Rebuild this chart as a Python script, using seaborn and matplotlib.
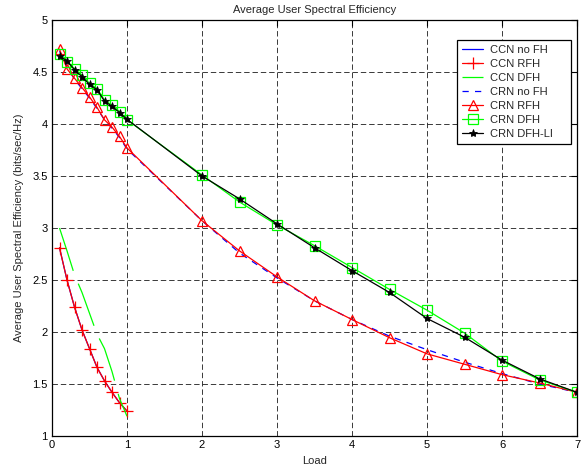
import matplotlib
matplotlib.use("Agg")
import matplotlib.pyplot as plt
from matplotlib.ticker import FormatStrFormatter, MultipleLocator
import seaborn as sns
import numpy as np

# ---------------- data ----------------
load_ccn = [0.1, 0.2, 0.3, 0.4, 0.5, 0.6, 0.7, 0.8, 0.9, 1.0]
load_crn = [0.1, 0.2, 0.3, 0.4, 0.5, 0.6, 0.7, 0.8, 0.9, 1.0,
            2.0, 2.5, 3.0, 3.5, 4.0, 4.5, 5.0, 5.5, 6.0, 6.5, 7.0]

ccn_no_fh = [2.81, 2.50, 2.24, 2.02, 1.84, 1.66, 1.53, 1.42, 1.32, 1.24]
ccn_rfh   = [2.81, 2.50, 2.24, 2.02, 1.84, 1.66, 1.53, 1.42, 1.32, 1.24]
ccn_dfh   = [3.00, 2.78, 2.55, 2.38, 2.18, 1.98, 1.84, 1.62, 1.36, 1.19]

crn_no_fh  = [4.70, 4.55, 4.43, 4.34, 4.25, 4.15, 4.04, 3.96, 3.87, 3.76,
              3.07, 2.76, 2.52, 2.30, 2.12, 1.96, 1.83, 1.71, 1.60, 1.50, 1.42]
crn_rfh    = [4.72, 4.53, 4.44, 4.35, 4.26, 4.16, 4.04, 3.97, 3.88, 3.77,
              3.07, 2.78, 2.53, 2.30, 2.12, 1.945, 1.79, 1.69, 1.59, 1.51, 1.42]
crn_dfh    = [4.67, 4.60, 4.53, 4.47, 4.39, 4.34, 4.23, 4.18, 4.12, 4.04,
              3.51, 3.25, 3.03, 2.83, 2.62, 2.41, 2.21, 1.99, 1.72, 1.54, 1.42]
crn_dfh_li = [4.65, 4.61, 4.52, 4.455, 4.38, 4.33, 4.22, 4.17, 4.11, 4.045,
              3.50, 3.28, 3.04, 2.81, 2.59, 2.38, 2.13, 1.95, 1.73, 1.55, 1.42]

title = "Average User Spectral Efficiency"
xlabel = "Load"
ylabel = "Average User Spectral Efficiency (bits/sec/Hz)"

# ---------------- style ----------------
sns.set_style("white")
plt.rcParams["font.family"] = ["Liberation Sans", "DejaVu Sans"]
plt.rcParams["font.size"] = 8

fig = plt.figure(figsize=(5.88, 4.73), dpi=100)
ax = fig.add_axes([52/588, 1-436/473, (577-52)/588, (436-20)/473])

lw = 0.9
series = [
    (load_ccn, ccn_no_fh, "CCN no FH", dict(color=(0, 0, 1), linestyle="-")),
    (load_ccn, ccn_rfh, "CCN RFH", dict(color=(1, 0, 0), linestyle="-", marker="+",
                                         markersize=8, markeredgecolor=(1, 0, 0), markeredgewidth=0.9)),
    (load_ccn, ccn_dfh, "CCN DFH", dict(color=(0, 1, 0), linestyle=(0, (36, 11)))),
    (load_crn, crn_no_fh, "CRN no FH", dict(color=(0, 0, 1), linestyle=(0, (5, 5)))),
    (load_crn, crn_rfh, "CRN RFH", dict(color=(1, 0, 0), linestyle="-", marker="^",
                                         markersize=7, markerfacecolor="none",
                                         markeredgecolor=(1, 0, 0), markeredgewidth=0.9)),
    (load_crn, crn_dfh, "CRN DFH", dict(color=(0, 1, 0), linestyle="-", marker="s",
                                         markersize=6.5, markerfacecolor="none",
                                         markeredgecolor=(0, 1, 0), markeredgewidth=0.9)),
    (load_crn, crn_dfh_li, "CRN DFH-LI", dict(color="black", linestyle="-", marker="*",
                                               markersize=6, markerfacecolor="black",
                                               markeredgecolor="black", markeredgewidth=0.6)),
]

for xs, ys, lab, kw in series:
    sns.lineplot(x=xs, y=ys, ax=ax, label=lab, linewidth=lw, sort=False,
                 estimator=None, **kw)

ax.set_xlim(0, 7)
ax.set_ylim(1, 5)
ax.xaxis.set_major_locator(MultipleLocator(1))
ax.yaxis.set_major_locator(MultipleLocator(0.5))
ax.yaxis.set_major_formatter(FormatStrFormatter("%g"))
ax.xaxis.set_major_formatter(FormatStrFormatter("%g"))

ax.grid(True, color="0.1", linestyle=(0, (6.5, 3.5)), linewidth=0.6)
ax.tick_params(direction="in", length=4, width=0.8, top=True, right=True,
               labelsize=8, colors="black", pad=3)
for sp in ax.spines.values():
    sp.set_color("black")
    sp.set_linewidth(0.9)

ax.set_title(title, fontsize=8, pad=5)
ax.set_xlabel(xlabel, fontsize=8, labelpad=4)
ax.set_ylabel(ylabel, fontsize=8, labelpad=6)

leg_left = (457 - 52) / 525
leg_right = (571 - 52) / 525
leg_top = (436 - 40) / 416
leg = ax.legend(loc="upper left",
                bbox_to_anchor=(leg_left, leg_top - 0.3, leg_right - leg_left, 0.3),
                mode="expand", fontsize=8,
                frameon=True, fancybox=False, edgecolor="black", framealpha=1,
                handlelength=1.9, borderpad=0.45, labelspacing=0.36,
                handletextpad=0.6, borderaxespad=0)
leg.get_frame().set_linewidth(0.9)

fig.savefig("out.png", dpi=100)
